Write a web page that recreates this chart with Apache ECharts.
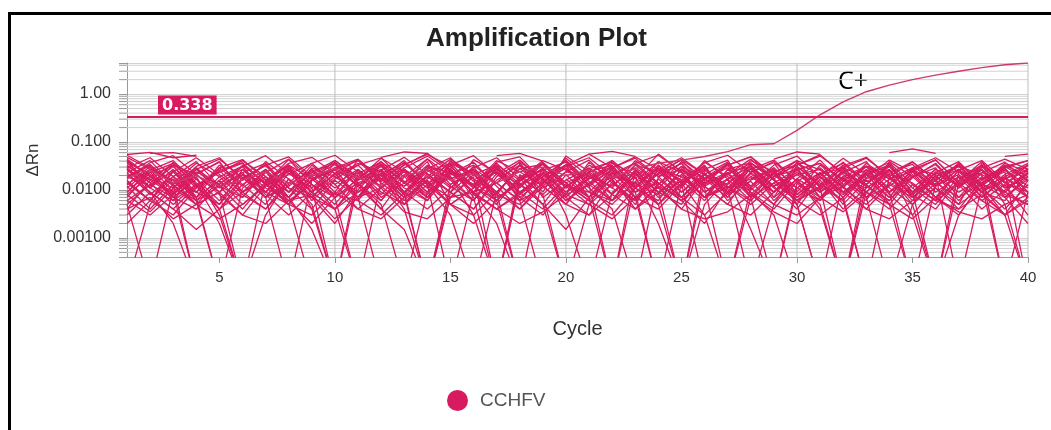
<!DOCTYPE html>
<html>
<head>
<meta charset="utf-8">
<script src="https://cdn.jsdelivr.net/npm/echarts/dist/echarts.min.js"></script>
<style>
html, body { margin: 0; padding: 0; background: #fff; }
#frame { position: absolute; left: 8px; top: 12px; width: 1100px; height: 500px; border-top: 3px solid #000; border-left: 3px solid #000; }
#container { position: absolute; left: 0; top: 0; width: 1051px; height: 430px; }
</style>
</head>
<body>
<div id="frame"></div>
<div id="container"></div>
<script>
// wells are stored in milli-ΔRn (x 0.001), null = no value
var UNIT = 0.001;
var cycles = [1,2,3,4,5,6,7,8,9,10,11,12,13,14,15,16,17,18,19,20,21,22,23,24,25,26,27,28,29,30,31,32,33,34,35,36,37,38,39,40];
var threshold = 0.338;

var w01 = [42,11,27,6,0.1,null,7,31,9,38,14,4,19,44,13,26,8,33,17,5,23,41,12,29,7,18,36,10,24,5,0.1,null,13,34,9,27,15,39,11,22];
var w02 = [18,37,52,21,8,3,12,29,6,17,33,47,15,7,26,11,38,49,16,6,14,31,9,22,43,12,5,24,37,8,19,46,21,7,28,13,35,9,17,32];
var w03 = [7,23,36,12,4,0.1,null,null,16,41,19,8,27,13,39,22,6,15,35,11,28,17,4,13,31,9,21,44,16,6,12,29,18,42,24,7,3,14,26,9];
var w04 = [55,61,47,53,null,null,9,26,7,2,10,34,14,45,19,6,31,12,23,8,38,16,5,27,47,21,9,33,12,4,17,38,15,26,8,19,33,12,29,41];
var w05 = [14,6,3,11,29,43,16,5,21,37,12,4,1.5,0.1,9,24,8,34,13,46,19,31,11,39,23,7,14,28,6,17,42,13,31,8,3,12,27,7,19,33];
var w06 = [31,17,9,28,12,4,15,36,48,22,7,19,41,13,5,2,6,18,38,14,6,3,11,29,16,37,53,23,9,26,7,15,32,19,6,24,13,4,10,22];
var w07 = [4,16,8,27,44,18,32,11,4,0.1,null,13,29,51,24,9,26,7,3,12,23,6,27,12,4,17,33,49,21,8,22,36,13,5,19,34,11,26,8,5];
var w08 = [19,34,13,5,16,31,8,3,9,22,43,17,7,28,47,15,6,18,5,1.5,7,21,37,14,6,2,11,27,42,15,6,19,7,22,39,16,32,11,4,13];
var w09 = [2,6,19,39,12,7,27,9,33,13,4,11,24,7,21,38,12,4,15,33,56,29,11,6,28,12,5,3,9,21,10,32,48,19,8,4,16,31,12,34];
var w10 = [27,11,38,17,6,21,7,14,36,53,24,9,5,13,3,0.1,9,28,12,5,19,8,34,13,39,17,7,29,11,5,22,8,24,37,13,6,4,16,28,9];
var w11 = [9,24,6,13,4,17,33,49,19,8,6,23,8,31,12,6,22,42,16,7,3,15,6,27,11,41,17,6,19,33,54,21,9,4,13,6,26,41,15,7];
var w12 = [38,21,7,4,14,27,11,6,2,7,17,39,14,6,23,9,4,8,26,38,12,27,7,4,13,29,9,36,16,6,3,7,21,31,9,23,39,13,9,27];
var w13 = [16,6,24,47,21,9,4,13,26,7,27,11,34,55,31,12,33,8,23,6,13,41,17,56,24,7,23,9,4,15,29,11,5,14,27,42,14,6,3,7];
var w14 = [6,3,8,21,9,33,14,43,13,5,19,33,9,4,11,29,47,17,36,12,5,13,24,7,16,6,27,12,33,51,19,7,27,11,5,14,7,23,38,15];
var w15 = [53,29,14,9,26,8,4,17,7,23,6,3,9,24,36,12,5,19,8,24,42,14,6,17,7,21,9,28,7,38,12,29,9,26,7,16,33,9,21,36];
var w16 = [21,9,4,1.5,4,13,27,7,19,34,12,26,48,21,9,4,16,33,9,51,24,11,41,19,7,23,6,16,27,6,11,23,39,9,26,9,19,6,13,3];
var w17 = [8,19,33,7,29,12,39,17,7,4,13,6,21,8,27,9,36,13,5,0.1,null,19,7,23,43,21,11,33,9,26,36,16,6,39,19,7,14,27,7,17];
var w18 = [29,47,19,9,5,18,7,26,9,27,41,14,6,19,9,43,23,7,17,28,9,5,15,39,14,27,42,7,22,11,6,27,12,6,18,36,11,33,14,28];
var w19 = [3,9,4,12,26,37,13,7,27,9,43,15,27,11,34,8,4,9,21,9,28,38,11,5,19,7,27,37,17,7,16,4,11,24,34,12,27,9,6,23];
var w20 = [17,33,12,6,19,7,23,44,17,7,14,22,36,14,7,21,9,28,34,11,33,19,14,8,26,12,22,7,14,27,9,19,31,14,8,19,31,21,11,19];
var w21 = [27,9,2,0.1,null,null,14,5,0.1,null,7,21,4,0.1,null,16,31,6,0.1,null,9,26,7,0.1,null,13,36,9,3,0.1,null,8,23,5,0.1,null,17,33,7,2];
var w22 = [0.1,5,17,7,0.1,11,24,7,1.5,0.1,14,5,0.1,9,19,3,0.1,21,8,0.1,5,23,9,0.1,14,3,0.1,11,27,5,0.1,17,7,0.1,5,21,0.1,12,3,0.1];
var w23 = [13,27,7,19,3,0.1,16,33,11,0.1,null,23,8,0.1,13,26,9,0.1,null,29,11,4,0.1,19,36,11,0.1,7,23,41,11,0.1,9,27,3,0.1,14,27,5,0.1];
var w24 = [37,14,5,13,2,0.1,null,26,9,4,0.1,16,38,13,0.1,9,2,0.1,19,41,13,0.1,14,5,0.1,26,11,0.1,5,17,4,0.1,23,9,0.1,13,37,13,0.1,9];
var w25 = [5,0.1,11,27,9,0.1,3,17,5,0.1,22,38,9,0.1,7,19,0.1,14,5,21,7,0.1,26,9,0.1,5,17,1.5,0.1,11,23,7,0.1,19,5,0.1,3,14,24,0.1];
var w26 = [23,41,13,0.1,null,19,7,0.1,16,27,7,0.1,null,13,29,7,0.1,16,26,3,0.1,9,19,2,0.1,16,33,7,0.1,14,5,0.1,13,31,9,0.1,24,9,3,16];
var w27 = [null,58,60,50,null,null,null,null,null,null,null,48,62,58,null,null,52,58,40,null,56,64,50,null,null,null,null,null,44,62,56,null,null,60,72,58,null,null,50,56];
var w28 = [48,27,14,36,19,31,52,22,11,29,44,17,33,58,26,13,41,24,12,31,47,19,36,53,24,14,33,49,17,36,21,29,46,19,38,16,31,13,36,24];
var w29 = [41,19,11,31,47,16,34,9,23,41,17,46,24,9,33,52,21,11,36,14,7,29,49,27,12,38,19,8,24,33,51,23,12,6,24,43,14,29,44,27];
var w30 = [4,7,2.5,5,9,3,2,6,8,2.5,7,11,3.5,2.5,7,9,4,2,3.5,8,5,2.5,7,11,4,2.5,3.5,8,3.5,2,7,3.5,9,5,2.5,7,3.5,2.5,5,8];
var w31 = [8,3.5,11,5,2.5,5,13,5,3,9,4,2.5,7,15,5,3,9,4,12,5,3,8,4,12,7,3,9,15,5,3,7,12,4,2.5,6,11,4,8,3,6];
var w32 = [15,6,26,9,33,13,5,23,9,4,16,31,11,6,41,17,8,5,14,34,13,6,26,9,5,21,38,12,27,7,19,5,16,7,27,11,5,36,14,9];
var w33 = [9,26,41,14,5,27,9,33,4,16,7,26,5,22,9,4,19,38,7,16,29,8,23,5,14,33,7,22,9,31,14,6,22,33,11,5,19,9,29,7];
var w34 = [29,11,6,22,38,9,26,5,16,27,7,34,14,39,5,11,27,12,29,7,21,11,6,33,9,26,12,6,19,27,36,9,23,9,19,29,7,14,33,19];
var w35 = [6,13,24,7,16,5,12,21,36,13,27,7,14,27,16,6,29,9,19,33,7,17,29,14,6,14,23,31,7,17,9,26,7,17,9,23,12,27,9,5];
var w36 = [33,14,31,11,24,36,13,27,9,21,33,11,26,9,21,33,14,39,17,8,13,27,11,21,36,9,17,31,12,21,27,11,36,17,24,12,21,7,17,26];
var w37 = [12,4,13,29,11,23,7,12,27,11,23,6,27,11,26,9,14,6,23,12,9,6,14,27,19,7,11,17,29,11,23,9,17,27,7,19,9,17,26,12];
var w38 = [23,8,19,6,12,23,36,11,7,19,9,17,9,31,23,12,6,17,27,14,24,33,9,14,6,17,29,11,5,29,7,17,26,9,21,7,26,13,7,19];
var w39 = [44,19,8,24,13,31,9,5,17,29,12,38,19,7,24,13,29,8,19,41,15,6,21,11,31,17,9,23,39,15,7,24,13,36,9,17,27,12,31,16];
var w40 = [11,27,16,5,9,21,14,33,17,8,26,12,5,17,36,21,7,13,27,9,17,36,21,9,15,31,8,19,12,23,13,33,7,12,29,21,6,19,9,24];
var w41 = [19,12,33,21,39,9,17,7,29,19,36,24,12,33,17,27,14,6,11,24,19,12,33,24,9,21,13,41,24,9,33,17,11,21,14,6,13,23,17,11];
var w42 = [5,13,7,17,4,9,19,6,13,4,9,21,7,16,5,11,24,9,4,13,6,17,4,9,21,7,12,5,14,6,19,9,4,13,7,16,5,11,19,7];
var w43 = [26,16,36,13,23,41,19,9,24,36,16,27,9,19,44,21,33,16,41,26,17,29,46,19,27,13,21,36,19,41,26,12,31,17,29,47,24,17,31,41];
var w44 = [13,31,9,0.1,null,21,9,27,13,7,0.1,null,12,26,11,31,6,0.1,null,17,7,24,11,33,14,0.1,null,19,9,31,12,6,0.1,null,11,27,13,21,0.1,null];
// positive control (C+)
var cPos = [18,26,14,20,12,16,24,14,20,28,18,12,20,26,16,22,14,24,30,20,26,18,28,36,42,50,63,88,92,175,370,690,1120,1540,2000,2480,3000,3560,4100,4450];

var wells = [w01,w02,w03,w04,w05,w06,w07,w08,w09,w10,w11,w12,w13,w14,w15,w16,w17,w18,w19,w20,w21,w22,
             w23,w24,w25,w26,w27,w28,w29,w30,w31,w32,w33,w34,w35,w36,w37,w38,w39,w40,w41,w42,w43,w44];

var LINE = '#d81b60';
var FONT = 'Liberation Sans';
var xMin = 1, xMax = 40;
var yMin = 0.0004, yMax = 4.45;

// log minor grid values 2..9 x 10^e
var minorGrid = [];
for (var e = -4; e <= 0; e++) {
    for (var k = 2; k <= 9; k++) {
        var v = k * Math.pow(10, e);
        if (v > yMin && v < yMax) minorGrid.push(v);
    }
}
var xGrid = [10, 20, 30, 40];

function toPoints(row) {
    return row.map(function (v, i) {
        return [cycles[i], v === null ? '-' : v * UNIT];
    });
}

var dom = document.getElementById('container');
var myChart = echarts.init(dom);

var series = [];
// minor horizontal grid lines + their ticks left of the axis
series.push({
    name: 'minorGrid',
    type: 'custom',
    data: minorGrid.map(function (v) { return [xMin, v]; }),
    silent: true,
    clip: false,
    z: 1,
    renderItem: function (params, api) {
        var a = api.coord([xMin, api.value(1)]);
        var b = api.coord([xMax, api.value(1)]);
        return {
            type: 'group',
            children: [
                { type: 'line', shape: { x1: a[0], y1: a[1], x2: b[0], y2: b[1] }, style: { stroke: '#d2d2d2', lineWidth: 1 } },
                { type: 'line', shape: { x1: a[0] - 8, y1: a[1], x2: a[0], y2: a[1] }, style: { stroke: '#9a9a9a', lineWidth: 1 } }
            ]
        };
    }
});
// vertical grid lines every 10 cycles
series.push({
    name: 'cycleGrid',
    type: 'custom',
    data: xGrid.map(function (c) { return [c, yMin]; }),
    silent: true,
    z: 1,
    renderItem: function (params, api) {
        var a = api.coord([api.value(0), yMin]);
        var b = api.coord([api.value(0), yMax]);
        return { type: 'line', shape: { x1: a[0], y1: a[1], x2: b[0], y2: b[1] }, style: { stroke: '#bdbdbd', lineWidth: 1 } };
    }
});
for (var i = 0; i < wells.length; i++) {
    series.push({
        name: 'CCHFV',
        type: 'line',
        data: toPoints(wells[i]),
        symbol: 'none',
        silent: true,
        z: 3,
        lineStyle: { width: 1.3, color: LINE },
        itemStyle: { color: LINE }
    });
}
series.push({
    name: 'CCHFV',
    type: 'line',
    data: toPoints(cPos),
    symbol: 'none',
    silent: true,
    z: 4,
    lineStyle: { width: 1.4, color: '#cf3a6c' },
    itemStyle: { color: LINE },
    markLine: {
        silent: true,
        symbol: 'none',
        animation: false,
        lineStyle: { color: LINE, width: 2, type: 'solid' },
        label: {
            show: true,
            position: 'insideStartTop',
            formatter: String(threshold),
            color: '#fff',
            fontWeight: 'bold',
            fontSize: 16,
            fontFamily: 'DejaVu Sans',
            backgroundColor: LINE,
            padding: [2, 4, 1, 4],
            distance: [31, 2]
        },
        data: [{ yAxis: threshold }]
    }
});

var option = {
    animation: false,
    color: [LINE],
    textStyle: { fontFamily: FONT },
    title: {
        text: 'Amplification Plot',
        left: 421,
        top: 21,
        textStyle: { fontSize: 26, fontWeight: 'bold', color: '#222', fontFamily: FONT }
    },
    legend: {
        data: [{ name: 'CCHFV', icon: 'circle' }],
        left: 442,
        top: 385,
        itemWidth: 21,
        itemHeight: 21,
        textStyle: { fontSize: 19, color: '#555', fontFamily: FONT, padding: [0, 0, 0, 7] }
    },
    grid: { left: 127, right: 23, top: 63, bottom: 173 },
    xAxis: {
        type: 'value',
        min: xMin,
        max: xMax,
        splitNumber: 8,
        name: 'Cycle',
        nameLocation: 'middle',
        nameGap: 62,
        nameTextStyle: { fontSize: 20, color: '#333' },
        axisLine: { lineStyle: { color: '#999' } },
        axisTick: { show: true, length: 6, lineStyle: { color: '#999' } },
        axisLabel: { showMinLabel: false, fontSize: 15, color: '#333', margin: 13 },
        splitLine: { show: false }
    },
    yAxis: {
        type: 'log',
        logBase: 10,
        min: yMin,
        max: yMax,
        name: 'ΔRn',
        nameLocation: 'middle',
        nameGap: 85,
        nameTextStyle: { fontSize: 17, color: '#333' },
        axisLine: { show: true, lineStyle: { color: '#999' } },
        axisTick: { show: true, length: 8, lineStyle: { color: '#999' } },
        axisLabel: {
            fontSize: 16,
            color: '#333',
            margin: 16,
            formatter: function (v) {
                var l = Math.log10(v);
                return Math.abs(l - Math.round(l)) < 1e-6 ? v.toPrecision(3) : '';
            }
        },
        splitLine: { show: true, lineStyle: { color: '#d2d2d2' } }
    },
    graphic: [{
        type: 'text',
        left: 838,
        top: 69,
        style: { text: 'C+', fontSize: 25, fill: '#000', fontFamily: 'Open Sans' }
    }],
    series: series
};

myChart.setOption(option);
</script>
</body>
</html>
